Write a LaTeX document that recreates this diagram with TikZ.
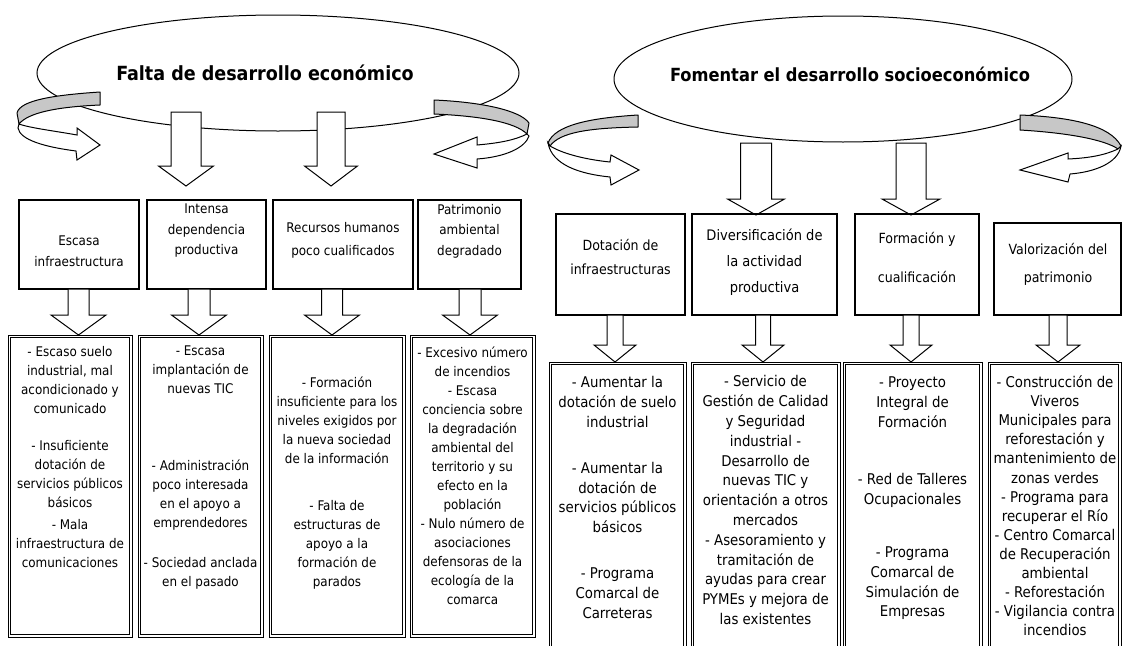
\documentclass[tikz,border=0pt]{standalone}
\usepackage{fontspec}
\setmainfont{DejaVu Sans Condensed}
\usetikzlibrary{shapes.geometric}
\newcommand\blkdown[6]{%
  \draw[blk] ({#1-#5},#2) -- ({#1+#5},#2) -- ({#1+#5},#3) -- ({#1+#6},#3) -- (#1,#4) -- ({#1-#6},#3) -- ({#1-#5},#3) -- cycle;}
\newcommand\boxat[6]{%
  \node[#6, minimum width={#4-#2}, minimum height={#5-#3}] (#1) at ({(#2+#4)/2},{(#3+#5)/2}) {};}
\newcommand\dboxat[5]{%
  \node[botbox, minimum width={#4-#2}, minimum height={#5-#3}] (#1) at ({(#2+#4)/2},{(#3+#5)/2}) {};
  \draw[line width=0.8pt] ([xshift=2.2pt,yshift=-2.2pt]#1.north west) rectangle ([xshift=-2.2pt,yshift=2.2pt]#1.south east);}
\begin{document}
\begin{tikzpicture}[x=1pt,y=-1pt,
  topbox/.style={draw, line width=1.1pt, inner sep=0pt, outer sep=0pt},
  botbox/.style={draw, line width=0.8pt, inner sep=0pt, outer sep=0pt},
  ltxt/.style={align=center, inner sep=0pt, anchor=north, font=\fontsize{13.3}{19}\selectfont},
  rtxt/.style={align=center, inner sep=0pt, anchor=north, font=\fontsize{14.8}{19.8}\selectfont},
  blk/.style={draw, fill=white, line width=1pt, line join=miter},
  band/.style={draw, fill=black!22, line width=1pt, line join=round},
  wband/.style={draw, fill=white, line width=1pt, line join=miter},
  ell/.style={draw, ellipse, line width=1pt, inner sep=0pt}]
\useasboundingbox[fill=white] (0,0) rectangle (1123,645);

% ---------- ellipses ----------
\node[ell, minimum width=482pt, minimum height=116pt] (e1) at (278,73) {};
\node[ell, minimum width=458pt, minimum height=126pt] (e2) at (843,79) {};
\node[font=\fontsize{19.5}{22}\selectfont\bfseries] (title1) at (265,73) {Falta de desarrollo económico};
\node[font=\fontsize{18.1}{22}\selectfont\bfseries] (title2) at (850,74) {Fomentar el desarrollo socioeconómico};

% ---------- curved arrows ----------
\draw[band] (100,92) .. controls (55,95) and (20,100) .. (17,113) -- (19,124) .. controls (28,113) and (55,107) .. (100,105) -- cycle;
\draw[wband] (19,124) .. controls (30,128) and (55,131) .. (77,135) -- (77,128) -- (100,145) -- (77,160) -- (76,151) .. controls (45,147) and (20,140) .. (18,128) -- cycle;
\draw[band] (434,100) .. controls (480,102) and (520,110) .. (529,123) -- (527,134) .. controls (515,122) and (480,116) .. (434,114) -- cycle;
\draw[wband] (527,134) .. controls (515,140) and (500,143) .. (477,145) -- (477,137) -- (434,154) -- (477,168) -- (477,159) .. controls (505,157) and (525,148) .. (529,136) -- cycle;
\draw[band] (638,115) .. controls (590,118) and (555,125) .. (548,143) -- (550,146) .. controls (560,132) and (590,128) .. (638,127) -- cycle;
\draw[wband] (550,146) .. controls (565,155) and (590,160) .. (610,162) -- (611,155) -- (639,170) -- (611,185) -- (610,177) .. controls (580,174) and (552,165) .. (548,143) -- cycle;
\draw[band] (1020,115) .. controls (1070,117) and (1110,125) .. (1121,146) -- (1118,149) .. controls (1105,140) and (1070,133) .. (1020,130) -- cycle;
\draw[wband] (1118,149) .. controls (1105,155) and (1090,158) .. (1068,159) -- (1068,153) -- (1020,170) -- (1068,182) -- (1070,174) .. controls (1095,172) and (1118,163) .. (1121,146) -- cycle;

% ---------- arrows from ellipses ----------
\blkdown{186}{112}{166}{186}{15}{27.5}
\blkdown{331}{112}{166}{186}{14}{26.5}
\blkdown{756}{143}{199}{215}{15.5}{28.5}
\blkdown{911}{143}{199}{215}{15}{29}

% ---------- top boxes ----------
\boxat{t1}{19}{200}{139}{289}{topbox}
\boxat{t2}{147}{200}{266}{289}{topbox}
\boxat{t3}{273}{200}{413}{289}{topbox}
\boxat{t4}{418}{200}{521}{289}{topbox}
\boxat{t5}{556}{214}{685}{315}{topbox}
\boxat{t6}{692}{214}{837}{315}{topbox}
\boxat{t7}{855}{214}{979}{315}{topbox}
\boxat{t8}{994}{223}{1121}{315}{topbox}

\node[ltxt, font=\fontsize{13.3}{21}\selectfont] (tt1) at (79,236) {Escasa\\infraestructura};
\node[ltxt, font=\fontsize{13.3}{20.5}\selectfont] (tt2) at (206.5,204) {Intensa\\dependencia\\productiva};
\node[ltxt, font=\fontsize{13.3}{23}\selectfont] (tt3) at (343,222) {Recursos humanos\\poco cualificados};
\node[ltxt, font=\fontsize{13.3}{20.5}\selectfont] (tt4) at (469.5,204) {Patrimonio\\ambiental\\degradado};
\node[rtxt, font=\fontsize{14}{24}\selectfont] (tt5) at (620.5,239.5) {Dotación de\\infraestructuras};
\node[rtxt, font=\fontsize{14.5}{26}\selectfont] (tt6) at (764.5,228.5) {Diversificación de\\la actividad\\productiva};
\node[rtxt, font=\fontsize{14}{39}\selectfont] (tt7) at (917,232.5) {Formación y\\cualificación};
\node[rtxt, font=\fontsize{14}{28}\selectfont] (tt8) at (1058,243.5) {Valorización del\\patrimonio};

% ---------- arrows between rows ----------
\blkdown{78.5}{289}{315}{335}{10.5}{27.5}
\blkdown{199}{289}{315}{335}{11}{27.5}
\blkdown{332}{289}{315}{335}{10.5}{27.5}
\blkdown{470}{289}{315}{335}{11}{27.5}
\blkdown{615}{315}{345}{362}{8}{21}
\blkdown{763}{315}{345}{362}{7.5}{21}
\blkdown{911}{315}{345}{362}{8}{21}
\blkdown{1058}{315}{345}{362}{9}{22}

% ---------- bottom boxes ----------
\dboxat{b1}{8}{335}{132}{637}
\dboxat{b2}{138}{335}{263}{637}
\dboxat{b3}{269}{335}{405}{637}
\dboxat{b4}{410}{335}{535}{637}
\dboxat{b5}{549}{362}{686}{660}
\dboxat{b6}{691}{362}{840}{660}
\dboxat{b7}{843}{362}{982}{660}
\dboxat{b8}{988}{362}{1121}{660}

\node[ltxt] (bt1) at (70,346) {- Escaso suelo\\industrial, mal\\acondicionado y\\comunicado\\[18pt]- Insuficiente\\dotación de\\servicios públicos\\básicos\\[3pt]- Mala\\infraestructura de\\comunicaciones};
\node[ltxt] (bt2) at (200.5,346) {- Escasa\\implantación de\\nuevas TIC\\[58pt]- Administración\\poco interesada\\en el apoyo a\\emprendedores\\[21pt]- Sociedad anclada\\en el pasado};
\node[ltxt] (bt3) at (337,377) {- Formación\\insuficiente para los\\niveles exigidos por\\la nueva sociedad\\de la información\\[28pt]- Falta de\\estructuras de\\apoyo a la\\formación de\\parados};
\node[ltxt] (bt4) at (472.5,347) {- Excesivo número\\de incendios\\- Escasa\\conciencia sobre\\la degradación\\ambiental del\\territorio y su\\efecto en la\\población\\- Nulo número de\\asociaciones\\defensoras de la\\ecología de la\\comarca};
\node[rtxt] (bt5) at (617.5,376.5) {- Aumentar la\\dotación de suelo\\industrial\\[26pt]- Aumentar la\\dotación de\\servicios públicos\\básicos\\[26pt]- Programa\\Comarcal de\\Carreteras};
\node[rtxt] (bt6) at (765.5,375.5) {- Servicio de\\Gestión de Calidad\\y Seguridad\\industrial -\\Desarrollo de\\nuevas TIC y\\orientación a otros\\mercados\\- Asesoramiento y\\tramitación de\\ayudas para crear\\PYMEs y mejora de\\las existentes};
\node[rtxt] (bt7) at (912.5,376.5) {- Proyecto\\Integral de\\Formación\\[38pt]- Red de Talleres\\Ocupacionales\\[33pt]- Programa\\Comarcal de\\Simulación de\\Empresas};
\node[rtxt, font=\fontsize{14.8}{19.1}\selectfont] (bt8) at (1055,375.5) {- Construcción de\\Viveros\\Municipales para\\reforestación y\\mantenimiento de\\zonas verdes\\- Programa para\\recuperar el Río\\- Centro Comarcal\\de Recuperación\\ambiental\\- Reforestación\\- Vigilancia contra\\incendios};
\end{tikzpicture}
\end{document}
